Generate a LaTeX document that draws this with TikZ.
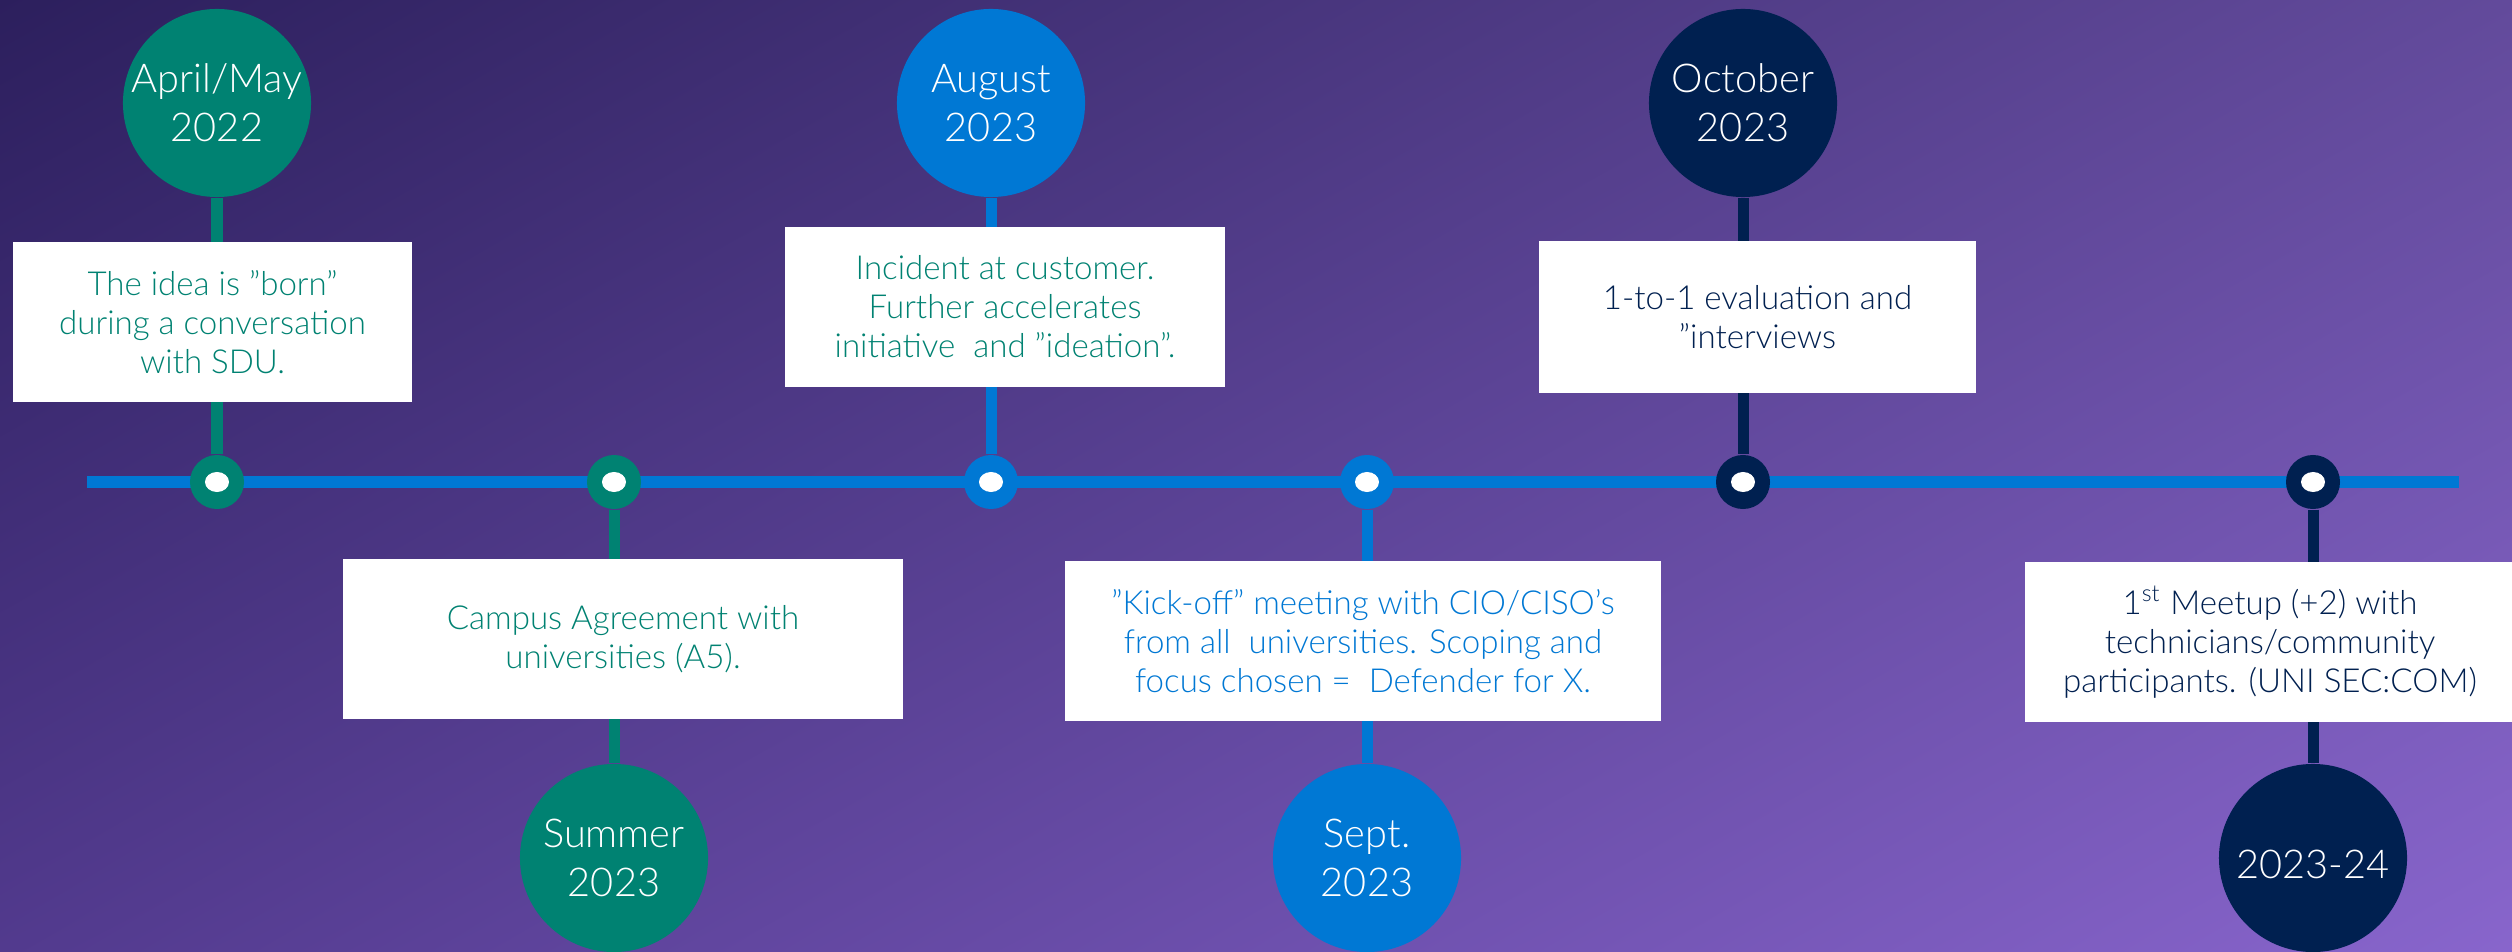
\documentclass[tikz,border=0pt]{standalone}
\usepackage{fontspec}
\setmainfont{Lato Light}
\definecolor{evgreen}{HTML}{008272}
\definecolor{evblue}{HTML}{0078D4}
\definecolor{evnavy}{HTML}{002050}
% diagonal purple backdrop (712.06bp x 269.86bp): colour varies linearly in x and y
\pgfdeclarefunctionalshading{bgshade}{\pgfpoint{0bp}{0bp}}{\pgfpoint{712.06bp}{269.86bp}}{}{
  269.86 div 1 exch sub exch 712.06 div
  2 copy 0.212 mul exch 0.149 mul add 0.173 add
  3 1 roll
  2 copy 0.169 mul exch 0.106 mul add 0.122 add
  3 1 roll
  0.243 mul exch 0.192 mul add 0.365 add
}
\pgfdeclarelayer{bg}
\pgfdeclarelayer{wires}
\pgfsetlayers{bg,wires,main}
\begin{document}
\begin{tikzpicture}[x=0.01cm,y=-0.01cm,
  event/.style={circle,minimum size=1.88cm,inner sep=0pt,text=white,align=center,
    font=\fontsize{11.3}{13.9}\selectfont,text height=22pt,text depth=-3.5pt},
  event1/.style={event,text height=11.5pt,text depth=0pt},
  note/.style={rectangle,fill=white,inner sep=0pt,align=center,minimum height=1.6cm,
    font=\fontsize{9.4}{11.1}\selectfont},
  ring/.style={circle,minimum size=0.54cm,inner sep=0pt,
    path picture={\fill[white] (path picture bounding box.center) ellipse [x radius=0.12cm,y radius=0.10cm];}},
  stem/.style={line width=0.11cm},
  timeline/.style={line width=0.11cm,draw=evblue}]
\clip (0,0) rectangle (2512,952);

\begin{pgfonlayer}{bg}
  \node[inner sep=0pt,outer sep=0pt,anchor=north west] (backdrop) at (0,0) {\pgfuseshading{bgshade}};
\end{pgfonlayer}

% date bubbles
\node[event,fill=evgreen] (c1) at (217,103) {April/May\\2022};
\node[event,fill=evgreen] (c2) at (614,858) {Summer\\2023};
\node[event,fill=evblue]  (c3) at (991,103) {August\\2023};
\node[event,fill=evblue]  (c4) at (1367,858) {Sept.\\2023};
\node[event,fill=evnavy]  (c5) at (1743,103) {October\\2023};
\node[event1,fill=evnavy] (c6) at (2313,858) {2023-24};

% milestones on the line
\node[ring,fill=evgreen] (d1) at (217,482) {};
\node[ring,fill=evgreen] (d2) at (614,482) {};
\node[ring,fill=evblue]  (d3) at (991,482) {};
\node[ring,fill=evblue]  (d4) at (1367,482) {};
\node[ring,fill=evnavy]  (d5) at (1743,482) {};
\node[ring,fill=evnavy]  (d6) at (2313,482) {};

% descriptions
\node[note,minimum width=3.99cm,text=evgreen] (n1) at (212.5,322)
  {The idea is ”born”\\during a conversation\\with SDU.};
\node[note,minimum width=5.60cm,text=evgreen] (n2) at (623,639)
  {Campus Agreement with\\universities (A5).};
\node[note,minimum width=4.40cm,text=evgreen] (n3) at (1005,307)
  {Incident at customer.\\Further accelerates\\initiative~ and ”ideation”.};
\node[note,minimum width=5.96cm,text=evblue] (n4) at (1363,641)
  {”Kick-off” meeting with CIO/CISO’s\\from all~ universities. Scoping and\\focus chosen = ~Defender for X.};
\node[note,minimum width=4.37cm,minimum height=1.52cm,text=evnavy] (n5) at (1757.5,317)
  {1-to-1 evaluation and\\”interviews};
\node[note,minimum width=4.90cm,text=evnavy] (n6) at (2270,642)
  {1\textsuperscript{st} Meetup (+2) with\\technicians/community\\participants. (UNI SEC:COM)};

\coordinate (tstart) at (87,482);
\coordinate (tend) at (2459,482);

\begin{pgfonlayer}{wires}
  \draw[timeline] (tstart) -- (tend);
  \draw[stem,evgreen] (c1) -- (d1);
  \draw[stem,evgreen] (d2) -- (c2);
  \draw[stem,evblue]  (c3) -- (d3);
  \draw[stem,evblue]  (d4) -- (c4);
  \draw[stem,evnavy]  (c5) -- (d5);
  \draw[stem,evnavy]  (d6) -- (c6);
\end{pgfonlayer}
\end{tikzpicture}
\end{document}
